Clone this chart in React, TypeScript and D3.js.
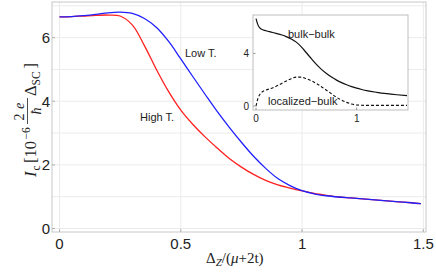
import React from 'react';
import * as d3 from 'd3';

// main panel: critical current vs Zeeman field
const deltaZ = [0, 0.05, 0.1, 0.15, 0.2, 0.25, 0.3, 0.35, 0.4, 0.45, 0.5, 0.55, 0.6, 0.65, 0.7, 0.75, 0.8, 0.85, 0.9, 0.95, 1.0, 1.05, 1.1, 1.15, 1.2, 1.25, 1.3, 1.35, 1.4, 1.45, 1.49];
const lowT = [6.65, 6.66, 6.69, 6.73, 6.78, 6.8, 6.76, 6.6, 6.32, 5.88, 5.33, 4.77, 4.22, 3.68, 3.18, 2.71, 2.27, 1.89, 1.57, 1.35, 1.19, 1.09, 1.03, 0.99, 0.96, 0.93, 0.9, 0.87, 0.84, 0.81, 0.78];
const highT = [6.65, 6.66, 6.68, 6.7, 6.71, 6.68, 6.4, 5.75, 4.99, 4.3, 3.72, 3.27, 2.88, 2.53, 2.2, 1.93, 1.7, 1.51, 1.37, 1.27, 1.18, 1.1, 1.04, 0.99, 0.96, 0.93, 0.9, 0.87, 0.84, 0.81, 0.78];

const xTicks = [0, 0.5, 1, 1.5];
const xTickLabels = ['0', '0.5', '1', '1.5'];
const yTicks = [0, 2, 4, 6];
const yGrid = [0, 1, 2, 3, 4, 5, 6, 7];

// inset: bulk-bulk and localized-bulk contributions
const insetDelta = [0, 0.02, 0.05, 0.1, 0.15, 0.2, 0.25, 0.3, 0.35, 0.4, 0.45, 0.5, 0.55, 0.6, 0.65, 0.7, 0.75, 0.8, 0.85, 0.9, 0.95, 1.0, 1.05, 1.1, 1.2, 1.3, 1.4, 1.5];
const bulkBulk = [6.65, 6.15, 5.85, 5.72, 5.62, 5.52, 5.42, 5.28, 5.1, 4.86, 4.5, 4.05, 3.6, 3.17, 2.79, 2.47, 2.2, 1.97, 1.78, 1.62, 1.48, 1.36, 1.26, 1.17, 1.04, 0.94, 0.86, 0.79];
const localizedBulk = [0, 0.6, 1.0, 1.22, 1.34, 1.5, 1.7, 1.9, 2.08, 2.2, 2.2, 2.08, 1.92, 1.72, 1.47, 1.2, 0.93, 0.66, 0.45, 0.28, 0.15, 0.08, 0.06, 0.05, 0.05, 0.05, 0.05, 0.05];
const insetXTicks = [0, 1];
const insetYTicks = [0, 4];

const sans = 'Liberation Sans, Arial, sans-serif';
const serif = 'Liberation Serif, Times New Roman, serif';

export default function App() {
  const width = 436;
  const height = 273;

  const x = d3.scaleLinear().domain([-0.031, 1.511]).range([52, 426]);
  const y = d3.scaleLinear().domain([-0.11, 7.12]).range([232, 2]);

  const ix = d3.scaleLinear().domain([-0.03, 1.51]).range([253, 408]);
  const iy = d3.scaleLinear().domain([-0.3, 6.92]).range([110, 15]);

  const line = d3.line<number>()
    .x((_, i) => x(deltaZ[i]))
    .y((d) => y(d))
    .curve(d3.curveCatmullRom.alpha(0.5));

  const insetLine = d3.line<number>()
    .x((_, i) => ix(insetDelta[i]))
    .y((d) => iy(d))
    .curve(d3.curveMonotoneX);

  const [x0, x1] = x.range();
  const [y0, y1] = y.range();
  const [ix0, ix1] = ix.range();
  const [iy0, iy1] = iy.range();

  return (
    <svg width={width} height={height} style={{ position: 'absolute', left: 0, top: 0, background: '#fff' }}>
      {/* grid */}
      {yGrid.map((v) => (
        <line key={'gy' + v} x1={x0} x2={x1} y1={y(v)} y2={y(v)} stroke="#ebebeb" strokeWidth={1} />
      ))}
      {xTicks.map((v) => (
        <line key={'gx' + v} x1={x(v)} x2={x(v)} y1={y1} y2={y0} stroke="#ebebeb" strokeWidth={1} />
      ))}

      {/* frame */}
      <rect x={x0} y={y1} width={x1 - x0} height={y0 - y1} fill="none" stroke="#c8c8c8" strokeWidth={1} />
      {yTicks.map((v) => (
        <line key={'ty' + v} x1={x0} x2={x0 + 3} y1={y(v)} y2={y(v)} stroke="#b0b0b0" />
      ))}
      {xTicks.map((v) => (
        <line key={'tx' + v} x1={x(v)} x2={x(v)} y1={y0} y2={y0 - 3} stroke="#b0b0b0" />
      ))}

      {/* tick labels */}
      {yTicks.map((v) => (
        <text key={'ly' + v} x={50} y={y(v)} dy="0.36em" textAnchor="end" fontFamily={sans} fontSize={15} fill="#222">{v}</text>
      ))}
      {xTicks.map((v, i) => (
        <text key={'lx' + v} x={x(v)} y={249} textAnchor="middle" fontFamily={sans} fontSize={15} fill="#222">{xTickLabels[i]}</text>
      ))}

      {/* curves */}
      <path d={line(highT) || ''} fill="none" stroke="#ff2020" strokeWidth={1.3} />
      <path d={line(lowT) || ''} fill="none" stroke="#2020ff" strokeWidth={1.3} />

      <text x={185} y={57} fontFamily={sans} fontSize={11} fill="#222">Low T.</text>
      <text x={140} y={121} fontFamily={sans} fontSize={11} fill="#222">High T.</text>

      {/* x label */}
      <text x={206} y={263} fontFamily={serif} fontSize={15} fill="#222">
        Δ<tspan fontStyle="italic" fontSize={11} dy={3}>Z</tspan>
        <tspan dy={-3}>/(</tspan><tspan fontStyle="italic">μ</tspan>+2t)
      </text>

      {/* y label */}
      <g transform="translate(36,177) rotate(-90)" fontFamily={serif} fill="#222">
        <text x={0} y={0} fontSize={16.5} fontStyle="italic">I</text>
        <text x={6.5} y={3.5} fontSize={11.5}>c</text>
        <text x={14} y={0} fontSize={16.5}>[10</text>
        <text x={37.5} y={-6.5} fontSize={11.5}>−6</text>
        <text x={60} y={-12} fontSize={14} textAnchor="middle">2</text>
        <text x={71} y={-12} fontSize={14} fontStyle="italic" textAnchor="middle">e</text>
        <line x1={53} x2={79} y1={-8.5} y2={-8.5} stroke="#222" strokeWidth={0.8} />
        <text x={66} y={5} fontSize={14} fontStyle="italic" textAnchor="middle">ħ</text>
        <text x={81} y={0} fontSize={16.5}>Δ</text>
        <text x={91.5} y={3.5} fontSize={11.5}>SC</text>
        <text x={108.5} y={0} fontSize={16.5}>]</text>
      </g>

      {/* inset */}
      <rect x={ix0} y={iy1} width={ix1 - ix0} height={iy0 - iy1} fill="#fff" stroke="#bdbdbd" strokeWidth={1} />
      {insetYTicks.map((v) => (
        <g key={'iy' + v}>
          <line x1={ix0} x2={ix0 + 2.5} y1={iy(v)} y2={iy(v)} stroke="#999" />
          <text x={249} y={iy(v)} dy="0.36em" textAnchor="end" fontFamily={sans} fontSize={10} fill="#222">{v}</text>
        </g>
      ))}
      {insetXTicks.map((v) => (
        <g key={'ix' + v}>
          <line x1={ix(v)} x2={ix(v)} y1={iy0} y2={iy0 - 2.5} stroke="#999" />
          <text x={ix(v)} y={121.5} textAnchor="middle" fontFamily={sans} fontSize={10} fill="#222">{v}</text>
        </g>
      ))}
      <path d={insetLine(bulkBulk) || ''} fill="none" stroke="#111" strokeWidth={1.2} />
      <path d={insetLine(localizedBulk) || ''} fill="none" stroke="#111" strokeWidth={1.1} strokeDasharray="3,2" />
      <text x={288} y={37.5} fontFamily={sans} fontSize={11} fill="#222">bulk−bulk</text>
      <text x={268} y={105} fontFamily={sans} fontSize={11} fill="#222">localized−bulk</text>
    </svg>
  );
}
